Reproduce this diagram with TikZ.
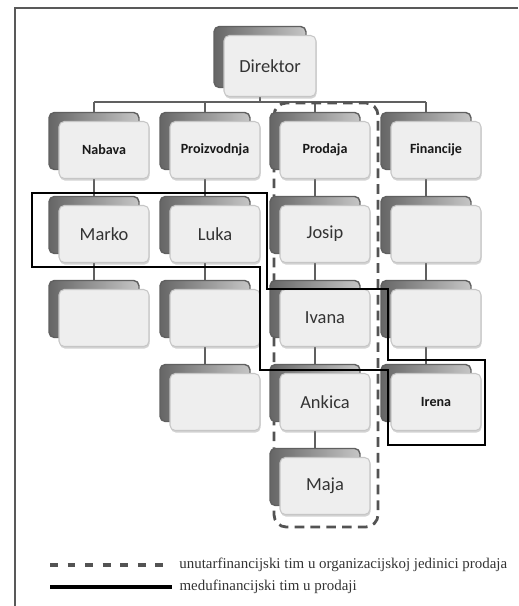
\documentclass[tikz,border=0pt]{standalone}
\usepackage{fontspec}
\setmainfont{Carlito}
\newfontfamily\legendfont{Liberation Serif}
\usetikzlibrary{shadows,backgrounds}

\begin{document}
\begin{tikzpicture}[x=0.02cm, y=-0.02cm,
  card/.style={rectangle, rounded corners=3pt, draw=gray!45, fill=gray!13, line width=0.6pt,
    minimum width=1.8cm, minimum height=1.14cm, text=black!80, font=\fontsize{10.5}{12}\selectfont,
    copy shadow={shadow xshift=-0.2cm, shadow yshift=0.18cm, left color=gray!80!black, right color=gray!45, draw=gray!75!black, line width=0.8pt},
    drop shadow={shadow xshift=0.4pt, shadow yshift=-1.2pt, opacity=0.35}},
  dept/.style={card, font=\bfseries\fontsize{8}{10}\selectfont, text=black!90},
  link/.style={draw=gray!75!black, line width=1.6pt},
  team/.style={draw=black, line width=1.2pt},
  unit/.style={draw=gray!65!black, line width=1.6pt, dash pattern=on 5.5pt off 3.5pt, rounded corners=7pt},
  legend/.style={right, font=\legendfont\fontsize{8.5}{10}\selectfont, text=black!80}]
\useasboundingbox (0,0) rectangle (518,606);
\draw[gray!70!black, line width=0.7pt] (15,606) -- (15,8) -- (518,8);

\node[card, minimum width=1.84cm, minimum height=1.22cm] (dir) at (270,66) {Direktor};
\node[dept] (nabava) at (104,150) {Nabava};
\node[dept] (proizv) at (215,150) {Proizvodnja};
\node[dept] (prodaja) at (325,150) {Prodaja};
\node[dept] (financ) at (436,150) {Financije};
\node[card] (marko) at (104,234) {Marko};
\node[card] (luka) at (215,234) {Luka};
\node[card] (josip) at (325,234) {Josip};
\node[card] (fin2) at (436,234) {};
\node[card] (nab3) at (104,318) {};
\node[card] (pro3) at (215,318) {};
\node[card] (ivana) at (325,318) {Ivana};
\node[card] (fin3) at (436,318) {};
\node[card] (pro4) at (215,402) {};
\node[card] (ankica) at (325,402) {Ankica};
\node[dept] (irena) at (436,402) {Irena};
\node[card] (maja) at (325,486) {Maja};

\begin{scope}[on background layer]
\coordinate (busL) at (94,102);
\coordinate (busR) at (426,102);
\draw[link] ([xshift=-0.2cm]dir.south) -- ([xshift=-0.2cm]dir.south |- busL);
\draw[link] (busL) -- (busR);
\foreach \d in {nabava,proizv,prodaja,financ}
  \draw[link] ([xshift=-0.2cm,yshift=0.18cm]\d.north) -- ([xshift=-0.2cm]\d.north |- busL);
\foreach \a/\b in {nabava/marko, marko/nab3, proizv/luka, luka/pro3, pro3/pro4,
    prodaja/josip, josip/ivana, ivana/ankica, ankica/maja, financ/fin2, fin2/fin3, fin3/irena}
  \draw[link] ([xshift=-0.2cm]\a.south) -- ([xshift=-0.2cm,yshift=0.18cm]\b.north);
\draw[unit] (274,103) rectangle (378,527);
\end{scope}

\draw[team] (32,193) -| (267,289) -| (388,360) -| (485,445) -| (388,370) -| (260,267) -| (32,193) -- cycle;

\draw[unit, rounded corners=0pt, line width=1.8pt, dash pattern=on 4.5pt off 5.5pt] (50,565) -- (172,565) node[legend] (ldash) {unutarfinancijski tim u organizacijskoj jedinici prodaja};
\draw[black, line width=2pt] (50,587) -- (172,587) node[legend] (lsolid) {medufinancijski tim u prodaji};
\end{tikzpicture}
\end{document}
